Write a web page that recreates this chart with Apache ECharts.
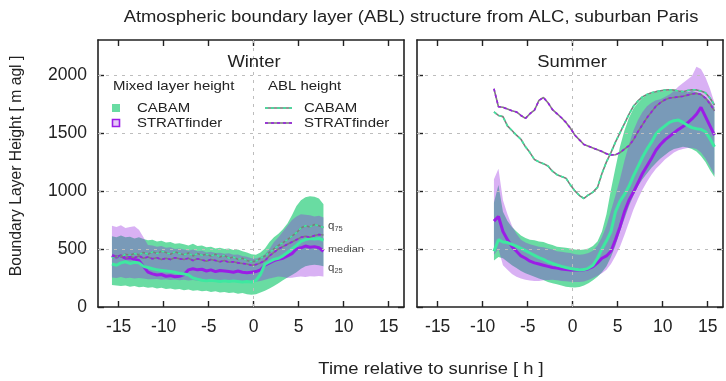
<!DOCTYPE html>
<html><head><meta charset="utf-8">
<script src="https://cdn.jsdelivr.net/npm/echarts@6/dist/echarts.min.js"></script>
<style>html,body{margin:0;padding:0;background:#fff}#c{width:726px;height:381px}</style>
</head><body><div id="c"></div><script>
// ---------------- data ----------------
const xTicks = [-15, -10, -5, 0, 5, 10, 15];
const yTicks = [0, 500, 1000, 1500, 2000];
const gridLineValues = [500, 1000, 1500, 2000];

const winterT = [-15.75,-15.25,-14.75,-14.25,-13.75,-13.25,-12.75,-12.25,-11.75,-11.25,-10.75,-10.25,-9.75,-9.25,-8.75,-8.25,
  -7.75,-7.25,-6.75,-6.25,-5.75,-5.25,-4.75,-4.25,-3.75,-3.25,-2.75,-2.25,-1.75,-1.25,-0.75,-0.25,
  0.25,0.75,1.25,1.75,2.25,2.75,3.25,3.75,4.25,4.75,5.25,5.75,6.25,6.75,7.25,7.75];
const winterCabamQ75 = [610,600,615,600,605,590,600,585, 575,580,565,570,555,560,545,550,
  540,530,545,525,530,515,520,505, 510,500,505,490,495,480,470,455,
  450,470,505,560,600,630,670,720, 790,870,920,945,955,950,935,885];
const winterCabamQ25 = [190,185,180,185,175,180,170,175, 165,170,160,165,155,160,150,155,
  145,150,140,145,135,140,130,135, 125,130,120,125,115,120,110,105,
  110,125,140,160,180,205,230,255, 275,300,330,350,360,365,360,350];
const winterStratQ75 = [700,690,705,680,690,695,665,600, 535,530,520,525,510,515,500,505,
  495,485,495,480,485,470,475,465, 468,458,462,450,452,440,432,420,
  418,430,455,500,560,600,650,700, 750,780,800,795,790,780,785,770];
const winterStratQ25 = [255,250,258,248,252,245,250,245, 240,238,242,235,238,232,236,230,
  234,228,232,226,230,225,228,222, 226,220,224,218,222,216,220,215,
  218,225,235,245,255,262,258,250, 252,258,262,258,265,262,268,262];
const winterCabamMed = [370,360,380,390,375,385,380,350, 340,330,320,315,310,305,300,290,
  285,275,250,240,230,225,230,225, 220,225,220,225,220,215,220,215,
  230,280,370,390,410,420,440,470, 500,530,565,580,590,585,590,575];
const winterStratMed = [445,430,440,420,425,410,400,350, 300,285,275,280,265,270,260,265,
  280,320,330,320,325,310,320,305, 315,310,305,300,310,300,295,300,
  305,320,360,380,400,410,420,440, 460,500,510,525,515,520,510,480];
const winterCabamAbl = [420,440,430,455,445,460,450,470, 455,475,460,480,470,455,475,460,
  450,465,440,460,445,455,440,455, 430,445,420,430,410,420,400,390,
  395,420,440,470,500,530,555,580, 610,640,680,700,690,710,700,685];
const winterStratAbl = [440,430,445,420,435,425,440,420, 430,415,425,410,420,410,425,415,
  410,420,400,415,405,395,410,400, 390,400,385,390,380,375,370,360,
  365,380,400,440,470,500,520,540, 560,580,600,610,600,615,625,620];

const summerT = [-8.75,-8.25,-7.75,-7.25,-6.75,-6.25,-5.75,-5.25, -4.75,-4.25,-3.75,-3.25,-2.75,-2.25,-1.75,-1.25,
  -0.75,-0.25,0.25,0.75,1.25,1.75,2.25,2.75, 3.25,3.75,4.25,4.75,5.25,5.75,6.25,6.75,
  7.25,7.75,8.25,8.75,9.25,9.75,10.25,10.75, 11.25,11.75,12.25,12.75,13.25,13.75,14.25,14.75, 15.25,15.75];
const summerCabamQ75 = [900,1050,820,740,690,650,615,595, 580,575,565,560,545,535,520,515,
  510,505,495,490,495,505,525,565, 650,800,1010,1200,1380,1520,1630,1710,
  1760,1800,1825,1840,1850,1855,1860,1865, 1860,1855,1860,1850,1860,1850,1840,1810, 1770,1720];
const summerCabamQ25 = [400,430,420,390,360,335,310,290, 275,260,245,232,215,205,195,185,
  175,170,168,172,185,205,230,260, 300,350,430,530,650,760,870,960,
  1040,1100,1150,1200,1240,1280,1310,1340, 1360,1370,1380,1375,1360,1340,1300,1250, 1180,1120];
const summerStratQ75 = [1100,1190,920,800,700,630,580,555, 540,530,520,515,505,495,480,475,
  470,465,455,450,455,465,485,530, 600,700,830,960,1100,1260,1400,1520,
  1610,1680,1730,1760,1780,1790,1810,1830, 1860,1900,1930,1960,1990,2070,2050,1980, 1880,1760];
const summerStratQ25 = [450,500,360,320,285,260,245,235, 228,225,225,230,232,235,230,225,
  222,218,215,215,220,232,250,270, 290,320,370,440,520,620,730,840,
  930,1010,1080,1140,1190,1230,1270,1300, 1330,1350,1360,1370,1370,1360,1330,1280, 1210,1140];
const summerCabamMed = [480,580,560,555,540,525,505,485, 465,445,425,410,390,375,362,350,
  340,332,325,320,322,335,360,420, 500,570,650,820,910,970,1040,1130,
  1210,1290,1360,1420,1490,1530,1560,1590, 1605,1610,1590,1565,1545,1535,1530,1510, 1450,1380];
const summerStratMed = [740,780,650,580,520,480,440,420, 395,380,370,360,350,340,335,328,
  322,318,318,318,320,330,348,380, 420,440,480,580,690,820,920,990,
  1070,1150,1215,1280,1350,1400,1440,1470, 1500,1530,1555,1585,1620,1660,1720,1640, 1560,1480];
const summerCabamAbl = [1680,1650,1640,1560,1520,1480,1445,1380, 1330,1270,1250,1235,1215,1170,1140,1125,
  1110,1050,1000,960,935,965,990,1030, 1150,1250,1330,1420,1500,1580,1660,1730,
  1775,1810,1830,1845,1855,1862,1868,1872, 1868,1860,1855,1865,1872,1870,1860,1845, 1800,1740];
const summerStratAbl = [1880,1725,1720,1705,1690,1680,1650,1625, 1665,1695,1780,1805,1760,1700,1665,1630,
  1590,1540,1480,1440,1400,1385,1370,1355, 1340,1320,1310,1312,1330,1360,1390,1440,
  1510,1570,1630,1680,1730,1760,1785,1800, 1805,1810,1815,1825,1835,1840,1830,1800, 1750,1690];

// ---------------- styles ----------------
const FONT = 'Liberation Sans, Arial, Helvetica, sans-serif';
const TXT = '#222';
const GREEN_LINE = '#3ee8a0';
const PURPLE_LINE = '#9b1de6';
const GREEN_FILL = 'rgba(72,212,142,0.82)';
const PURPLE_FILL = 'rgba(150,40,225,0.36)';
const ABL_GRAY = '#7d7d7d';
const X_MIN = -17.3, X_MAX = 16.7, Y_MIN = 0, Y_MAX = 2300;
const SX = 1.15; // horizontal stretch of the reference's text

const grids = [
  {left: 98, top: 40, width: 306, height: 267},
  {left: 417, top: 40, width: 306, height: 267}
];

function xAx(g, pos) {
  return {
    gridIndex: g, type: 'value', min: X_MIN, max: X_MAX, position: pos,
    axisLine: {show: true, onZero: false, lineStyle: {color: TXT, width: 1.6}},
    axisTick: {show: true, inside: true, length: 6, customValues: xTicks, lineStyle: {color: TXT, width: 1.4}},
    axisLabel: {show: pos === 'bottom', customValues: xTicks, fontSize: 17.5, color: TXT, fontFamily: FONT, margin: 11,
      formatter: v => String(v)},
    splitLine: {show: false}
  };
}
function yAx(g, pos) {
  return {
    gridIndex: g, type: 'value', min: Y_MIN, max: Y_MAX, position: pos,
    axisLine: {show: true, onZero: false, lineStyle: {color: TXT, width: 1.6}},
    axisTick: {show: true, inside: true, length: 6, customValues: yTicks, lineStyle: {color: TXT, width: 1.4}},
    axisLabel: {show: pos === 'left' && g === 0, customValues: yTicks, fontSize: 17.5, color: TXT, fontFamily: FONT, margin: 11,
      formatter: v => String(v)},
    splitLine: {show: false}
  };
}

function band(g, t, lo, hi, color) {
  return {
    type: 'custom', xAxisIndex: g, yAxisIndex: g, silent: true, z: 2,
    data: t.map((x, i) => [x, lo[i], hi[i]]),
    encode: {x: 0, y: [1, 2]},
    renderItem: function (params, api) {
      if (params.dataIndex !== 0) return null;
      const pts = [];
      for (let i = 0; i < t.length; i++) pts.push(api.coord([t[i], hi[i]]));
      for (let i = t.length - 1; i >= 0; i--) pts.push(api.coord([t[i], lo[i]]));
      return {type: 'polygon', shape: {points: pts}, style: {fill: color, stroke: null}};
    }
  };
}
function line(g, t, v, color, width, type, z) {
  return {
    type: 'line', xAxisIndex: g, yAxisIndex: g, silent: true, z: z,
    data: t.map((x, i) => [x, v[i]]),
    symbol: 'none', showSymbol: false,
    lineStyle: {color: color, width: width, type: type}
  };
}
function gridMarks(g) {
  return {
    type: 'line', xAxisIndex: g, yAxisIndex: g, silent: true, z: 1, data: [],
    markLine: {
      silent: true, symbol: 'none', label: {show: false}, animation: false,
      lineStyle: {color: '#bdbdbd', width: 1, type: [3, 5]},
      data: gridLineValues.map(v => ({yAxis: v})).concat([{xAxis: 0}])
    }
  };
}

function seasonSeries(g, t, cQ25, cQ75, sQ25, sQ75, cMed, sMed, cAbl, sAbl) {
  return [
    gridMarks(g),
    band(g, t, cQ25, cQ75, GREEN_FILL),
    band(g, t, sQ25, sQ75, PURPLE_FILL),
    line(g, t, sMed, PURPLE_LINE, 3, 'solid', 4),
    line(g, t, cMed, GREEN_LINE, 3, 'solid', 4),
    line(g, t, cAbl, ABL_GRAY, 1.6, 'solid', 5),
    line(g, t, cAbl, GREEN_LINE, 1.6, [3, 3], 6),
    line(g, t, sAbl, ABL_GRAY, 1.6, 'solid', 5),
    line(g, t, sAbl, PURPLE_LINE, 1.6, [3, 3], 6)
  ];
}

function txt(x, y, text, size, align, extra) {
  return Object.assign({type: 'text', x: x, y: y, silent: true, z: 100, scaleX: SX,
    style: {text: text, fontSize: size, fontFamily: FONT, fill: TXT, align: align || 'left', verticalAlign: 'middle'}}, extra || {});
}
function quant(x, y, sub) {
  return {type: 'text', x: x, y: y, silent: true, z: 100, scaleX: SX,
    style: {text: '{q|q}{s|' + sub + '}', fontFamily: FONT, fill: '#444', verticalAlign: 'middle',
      rich: {q: {fontSize: 10, fill: '#444', fontFamily: FONT}, s: {fontSize: 6.5, fill: '#444', fontFamily: FONT, verticalAlign: 'bottom', padding: [6, 0, 0, 0]}}}};
}

const graphics = [
  txt(411, 18, 'Atmospheric boundary layer (ABL) structure from ALC, suburban Paris', 16, 'center'),
  txt(254, 63, 'Winter', 16, 'center'),
  txt(572, 63, 'Summer', 16, 'center'),
  txt(431, 370, 'Time relative to sunrise [ h ]', 16, 'center'),
  txt(17, 166, 'Boundary Layer Height [ m agl ]', 15.7, 'center', {rotation: Math.PI / 2, scaleX: 1}),
  // legend
  txt(113, 86, 'Mixed layer height', 13, 'left'),
  txt(268, 86, 'ABL height', 13, 'left'),
  {type: 'rect', shape: {x: 112, y: 104, width: 8, height: 8}, style: {fill: GREEN_FILL}, z: 100, silent: true},
  txt(137, 108, 'CABAM', 13, 'left'),
  {type: 'rect', shape: {x: 112.5, y: 119.5, width: 7, height: 7}, style: {fill: 'rgba(150,40,225,0.25)', stroke: PURPLE_LINE, lineWidth: 1.6}, z: 100, silent: true},
  txt(137, 123, 'STRATfinder', 13, 'left'),
  {type: 'line', shape: {x1: 265, y1: 108, x2: 292, y2: 108}, style: {stroke: ABL_GRAY, lineWidth: 1.6}, z: 100, silent: true},
  {type: 'line', shape: {x1: 265, y1: 108, x2: 292, y2: 108}, style: {stroke: GREEN_LINE, lineWidth: 1.6, lineDash: [3, 3]}, z: 101, silent: true},
  txt(304, 108, 'CABAM', 13, 'left'),
  {type: 'line', shape: {x1: 265, y1: 123, x2: 292, y2: 123}, style: {stroke: ABL_GRAY, lineWidth: 1.6}, z: 100, silent: true},
  {type: 'line', shape: {x1: 265, y1: 123, x2: 292, y2: 123}, style: {stroke: PURPLE_LINE, lineWidth: 1.6, lineDash: [3, 3]}, z: 101, silent: true},
  txt(304, 123, 'STRATfinder', 13, 'left'),
  // quantile annotations
  quant(328, 226, '75'),
  txt(328, 249, 'median', 9.5, 'left', {style: {text: 'median', fontSize: 9.5, fontFamily: FONT, fill: '#444', align: 'left', verticalAlign: 'middle'}}),
  quant(328, 268, '25')
];

const option = {
  animation: false,
  backgroundColor: '#fff',
  grid: grids,
  xAxis: [xAx(0, 'bottom'), xAx(1, 'bottom'), xAx(0, 'top'), xAx(1, 'top')],
  yAxis: [yAx(0, 'left'), yAx(1, 'left'), yAx(0, 'right'), yAx(1, 'right')],
  series: [].concat(
    seasonSeries(0, winterT, winterCabamQ25, winterCabamQ75, winterStratQ25, winterStratQ75,
      winterCabamMed, winterStratMed, winterCabamAbl, winterStratAbl),
    seasonSeries(1, summerT, summerCabamQ25, summerCabamQ75, summerStratQ25, summerStratQ75,
      summerCabamMed, summerStratMed, summerCabamAbl, summerStratAbl)
  ),
  graphic: graphics
};

const chart = echarts.init(document.getElementById('c'));
chart.setOption(option);
</script></body></html>
